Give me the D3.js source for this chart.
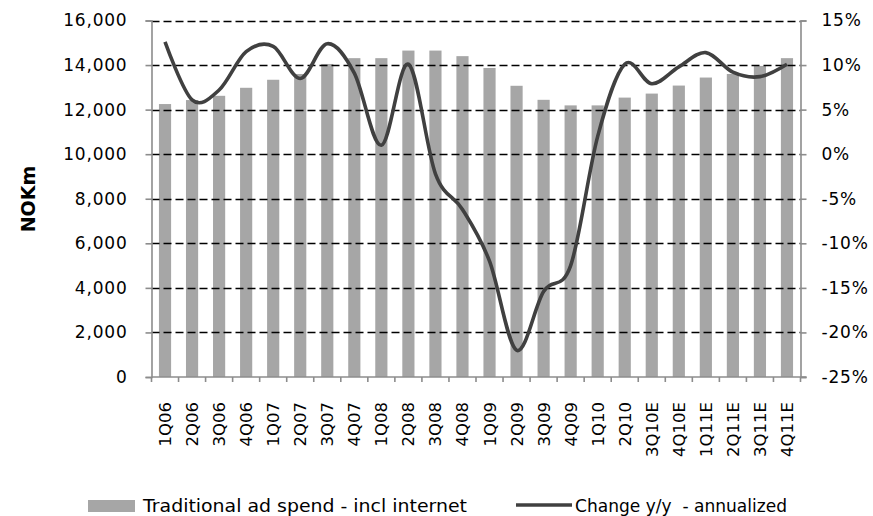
<!DOCTYPE html>
<html>
<head>
<meta charset="utf-8">
<script src="https://cdn.jsdelivr.net/npm/d3@7/dist/d3.min.js"></script>
<style>
  html, body { margin: 0; padding: 0; background: #fff; }
  svg { display: block; }
  text { font-family: "DejaVu Sans", Verdana, sans-serif; fill: #000; }
</style>
</head>
<body>
<svg id="chart" width="873" height="516"></svg>
<script>
// Quarterly categories (E = estimate)
const quarters = ["1Q06","2Q06","3Q06","4Q06","1Q07","2Q07","3Q07","4Q07",
                  "1Q08","2Q08","3Q08","4Q08","1Q09","2Q09","3Q09","4Q09",
                  "1Q10","2Q10","3Q10E","4Q10E","1Q11E","2Q11E","3Q11E","4Q11E"];

// Traditional ad spend incl. internet, NOKm (annualized)
const adSpend = [12250, 12430, 12620, 12980, 13340, 13600, 14050, 14310,
                 14310, 14650, 14650, 14400, 13870, 13070, 12440, 12190,
                 12190, 12540, 12720, 13080, 13440, 13600, 13960, 14310];

// Change y/y, annualized (%)
const changeYoY = [12.6, 6.1, 7.2, 11.5, 12.1, 8.5, 12.4, 9.1,
                   1.0, 10.1, -2.2, -6.2, -12.0, -22.0, -15.4, -12.5,
                   2.0, 10.1, 7.9, 9.8, 11.4, 9.2, 8.7, 10.1];

// Axis tick values
const leftTicks = [0, 2000, 4000, 6000, 8000, 10000, 12000, 14000, 16000];
const rightTicks = [-25, -20, -15, -10, -5, 0, 5, 10, 15];

const svg = d3.select("#chart");
const plot = { left: 151.5, right: 800.5, top: 20.5, bottom: 377 };

const x = d3.scaleBand().domain(quarters).range([plot.left, plot.right]).padding(0);
const yL = d3.scaleLinear().domain([0, 16000]).range([plot.bottom, plot.top]);
const yR = d3.scaleLinear().domain([-25, 15]).range([plot.bottom, plot.top]);

const barW = x.bandwidth() * 0.45;
const axisGrey = "#8c8c8c";

// Bars
svg.append("g").selectAll("rect")
  .data(adSpend)
  .join("rect")
  .attr("x", (d, i) => x(quarters[i]) + (x.bandwidth() - barW) / 2)
  .attr("y", d => yL(d))
  .attr("width", barW)
  .attr("height", d => yL(0) - yL(d))
  .attr("fill", "#a6a6a6");

// Dashed gridlines (drawn over bars)
svg.append("g").selectAll("line")
  .data(leftTicks.filter(v => v > 0))
  .join("line")
  .attr("x1", plot.left).attr("x2", plot.right)
  .attr("y1", d => Math.round(yL(d)) + 0.5).attr("y2", d => Math.round(yL(d)) + 0.5)
  .attr("stroke", "#000")
  .attr("stroke-width", 1.6)
  .attr("stroke-dasharray", "8,4");

// Left axis
const leftAxis = svg.append("g")
  .attr("transform", `translate(${plot.left},0)`)
  .call(d3.axisLeft(yL).tickValues(leftTicks).tickSize(6).tickPadding(18)
        .tickFormat(d3.format(",")));
// Right axis
const rightAxis = svg.append("g")
  .attr("transform", `translate(${plot.right},0)`)
  .call(d3.axisRight(yR).tickValues(rightTicks).tickSize(6).tickPadding(15)
        .tickFormat(d => d + "%"));

[leftAxis, rightAxis].forEach(g => {
  g.select(".domain").attr("stroke", axisGrey).attr("stroke-width", 1.6);
  g.selectAll(".tick line").attr("stroke", axisGrey).attr("stroke-width", 1.6);
  g.selectAll(".tick text")
    .attr("font-size", 17).attr("letter-spacing", "0.8px")
    .attr("fill", "#111").attr("font-family", "DejaVu Sans, Verdana, sans-serif");
});

// Bottom axis: ticks at category boundaries
const bottom = svg.append("g");
bottom.append("line")
  .attr("x1", plot.left).attr("x2", plot.right + 6)
  .attr("y1", plot.bottom).attr("y2", plot.bottom)
  .attr("stroke", axisGrey).attr("stroke-width", 1.6);
bottom.selectAll("line.tk")
  .data(quarters.map((q, i) => i).concat([quarters.length]))
  .join("line")
  .attr("class", "tk")
  .attr("x1", i => plot.left + i * x.step()).attr("x2", i => plot.left + i * x.step())
  .attr("y1", plot.bottom).attr("y2", plot.bottom + 5)
  .attr("stroke", axisGrey).attr("stroke-width", 1.6);
bottom.selectAll("text")
  .data(quarters)
  .join("text")
  .attr("transform", d => `translate(${x(d) + x.bandwidth() / 2 + 6},402) rotate(-90)`)
  .attr("text-anchor", "end")
  .attr("font-size", 16.5)
  .attr("fill", "#111")
  .text(d => d);

// Y/Y change line (smoothed)
const line = d3.line()
  .x((d, i) => x(quarters[i]) + x.bandwidth() / 2)
  .y(d => yR(d))
  .curve(d3.curveCardinal.tension(0));
svg.append("path")
  .datum(changeYoY)
  .attr("d", line)
  .attr("fill", "none")
  .attr("stroke", "#404040")
  .attr("stroke-width", 3.6)
  .attr("stroke-linejoin", "round");

// Left axis title
svg.append("text")
  .attr("transform", "translate(35,199) rotate(-90)")
  .attr("text-anchor", "middle")
  .attr("font-size", 19)
  .attr("font-weight", "bold")
  .text("NOKm");

// Legend
const legend = svg.append("g");
legend.append("rect")
  .attr("x", 88).attr("y", 500).attr("width", 47).attr("height", 12)
  .attr("fill", "#a6a6a6");
legend.append("text")
  .attr("x", 143).attr("y", 512)
  .attr("font-size", 17.5)
  .attr("textLength", 324).attr("lengthAdjust", "spacingAndGlyphs")
  .text("Traditional ad spend - incl internet");
legend.append("line")
  .attr("x1", 516).attr("x2", 572).attr("y1", 505).attr("y2", 505)
  .attr("stroke", "#404040").attr("stroke-width", 3.6);
legend.append("text")
  .attr("x", 575).attr("y", 512)
  .attr("font-size", 17.5)
  .attr("xml:space", "preserve")
  .style("white-space", "pre")
  .attr("textLength", 212).attr("lengthAdjust", "spacingAndGlyphs")
  .text("Change y/y  - annualized");
</script>
</body>
</html>
